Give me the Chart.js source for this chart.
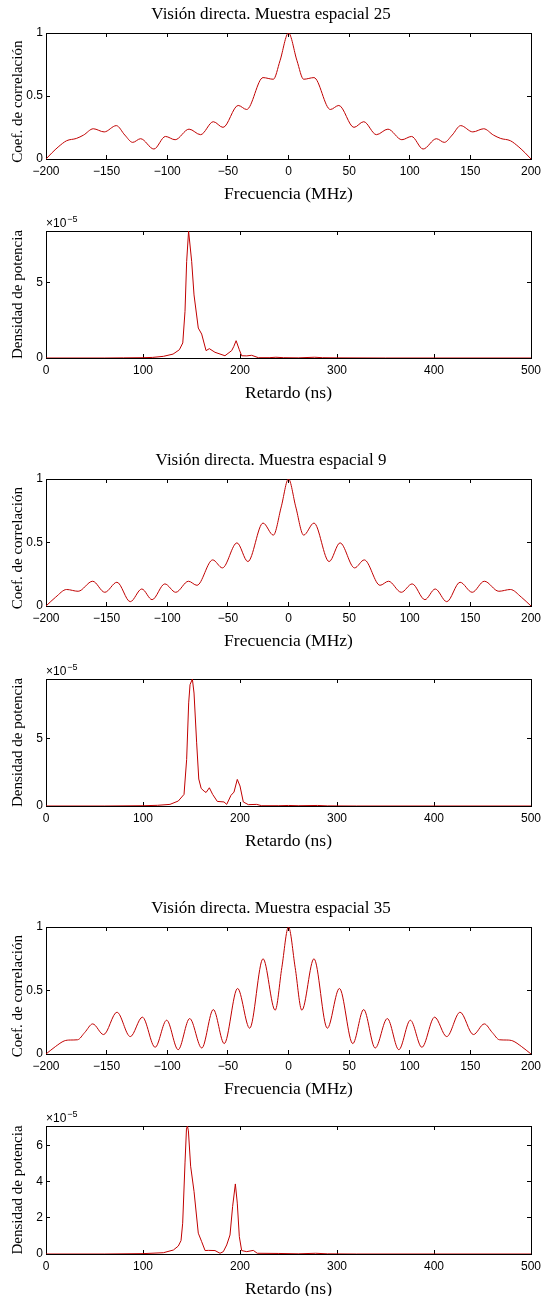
<!DOCTYPE html>
<html>
<head>
<meta charset="utf-8">
<script src="https://cdn.jsdelivr.net/npm/chart.js@4.4.0/dist/chart.umd.min.js"></script>
<style>
	body { margin: 0; background: #fff; width: 542px; height: 1296px; position: relative; overflow: hidden; }
	canvas { position: absolute; left: 0; }
</style>
</head>
<body>
<canvas id="corr25" width="542" height="210" style="top:0px"></canvas>
<canvas id="pdp25" width="542" height="200" style="top:210px"></canvas>
<canvas id="corr9" width="542" height="210" style="top:445px"></canvas>
<canvas id="pdp9" width="542" height="200" style="top:660px"></canvas>
<canvas id="corr35" width="542" height="210" style="top:893px"></canvas>
<canvas id="pdp35" width="542" height="191" style="top:1105px"></canvas>
<script>
// frecuencia (MHz) / coeficiente de correlación
const freq25 = [-200, -195, -190, -183, -175, -169, -161, -152, -142, -135, -128.5, -122, -111, -101.5, -93.5, -82, -72.5, -62, -54, -41.5, -34.5, -21, -12.5, -7, 0, 7, 12.5, 21, 34.5, 41.5, 54, 62, 72.5, 82, 93.5, 101.5, 111, 122, 128.5, 135, 142, 152, 161, 169, 175, 183, 190, 195, 200];
const corr25 = [0, 0.05, 0.095, 0.145, 0.163, 0.19, 0.24, 0.215, 0.265, 0.19, 0.132, 0.161, 0.079, 0.179, 0.153, 0.237, 0.193, 0.296, 0.251, 0.425, 0.393, 0.646, 0.633, 0.78, 1, 0.78, 0.633, 0.646, 0.393, 0.425, 0.251, 0.296, 0.193, 0.237, 0.153, 0.179, 0.079, 0.161, 0.132, 0.19, 0.265, 0.215, 0.24, 0.19, 0.163, 0.145, 0.095, 0.05, 0];

const freq9 = [-200, -192, -183, -173.5, -161.5, -151.5, -141.5, -130.5, -121, -112.5, -102, -93, -82.5, -75.5, -62.5, -54.5, -42.5, -33.5, -21, -12.5, -6, 0, 6, 12.5, 21, 33.5, 42.5, 54.5, 62.5, 75.5, 82.5, 93, 102, 112.5, 121, 130.5, 141.5, 151.5, 161.5, 173.5, 183, 192, 200];
const corr9 = [0, 0.07, 0.13, 0.116, 0.195, 0.108, 0.187, 0.034, 0.134, 0.05, 0.174, 0.108, 0.195, 0.163, 0.363, 0.3, 0.497, 0.35, 0.653, 0.558, 0.78, 1, 0.78, 0.558, 0.653, 0.35, 0.497, 0.3, 0.363, 0.163, 0.195, 0.108, 0.174, 0.05, 0.134, 0.034, 0.187, 0.108, 0.195, 0.116, 0.13, 0.07, 0];

const freq35 = [-200, -192, -185, -180, -174, -168, -161.5, -152.5, -141.5, -130.5, -120.5, -110, -100.5, -91, -81.5, -71.5, -62, -53, -42, -32, -21, -11, -5.5, 0, 5.5, 11, 21, 32, 42, 53, 62, 71.5, 81.5, 91, 100.5, 110, 120.5, 130.5, 141.5, 152.5, 161.5, 168, 174, 180, 185, 192, 200];
const corr35 = [0, 0.06, 0.103, 0.11, 0.112, 0.17, 0.237, 0.153, 0.329, 0.137, 0.29, 0.053, 0.266, 0.034, 0.279, 0.047, 0.35, 0.082, 0.516, 0.203, 0.75, 0.345, 0.68, 1, 0.68, 0.345, 0.75, 0.203, 0.516, 0.082, 0.35, 0.047, 0.279, 0.034, 0.266, 0.053, 0.29, 0.137, 0.329, 0.153, 0.237, 0.17, 0.112, 0.11, 0.103, 0.06, 0];

// retardo (ns) / densidad de potencia (x1e-5)
const delay25 = [0, 60, 80, 100, 110, 121, 131, 137.5, 141, 143.3, 145, 147, 150.2, 152.6, 157, 160.5, 165, 168.4, 174.2, 184.5, 191.4, 193.5, 196, 199.3, 201.7, 207, 212, 219, 230, 237, 245, 260, 277, 285, 300, 350, 400, 500];
const power25 = [0, 0, 0.01, 0.02, 0.04, 0.11, 0.26, 0.55, 1.0, 3.1, 6.4, 8.44, 6.4, 4.19, 1.99, 1.59, 0.49, 0.62, 0.38, 0.15, 0.49, 0.75, 1.15, 0.55, 0.15, 0.14, 0.18, 0.02, 0.02, 0.05, 0.02, 0.01, 0.05, 0.02, 0.01, 0, 0, 0];

const delay9 = [0, 60, 100, 115, 127.8, 136.4, 142.3, 145, 147.1, 148.5, 150.9, 152.6, 155.3, 157.5, 160, 163, 165, 168.4, 171.8, 176.6, 183.5, 186.3, 190.7, 193.8, 197.2, 200, 203.4, 208.6, 217.2, 222.4, 240, 250, 260, 280, 290, 320, 500];
const power9 = [0, 0, 0.02, 0.05, 0.12, 0.37, 0.86, 3.45, 7.64, 8.99, 9.41, 8.37, 4.68, 2.0, 1.3, 1.1, 1.0, 1.35, 0.86, 0.34, 0.3, 0.12, 0.79, 1.03, 1.97, 1.48, 0.3, 0.1, 0.12, 0.02, 0.02, 0.04, 0.02, 0.04, 0.01, 0, 0];

const delay35 = [0, 60, 100, 121, 131.3, 136.4, 139.2, 140.9, 143.3, 144.8, 145.8, 146.8, 149.1, 152.6, 157, 160.5, 164, 167.3, 174.2, 179.4, 182.8, 186.3, 189.7, 192.4, 195.2, 197.2, 199.3, 201.7, 206.9, 213.7, 217.8, 240, 260, 278, 290, 320, 500];
const power35 = [0, 0, 0.02, 0.07, 0.22, 0.44, 0.74, 1.7, 5.03, 6.9, 7.07, 6.8, 4.85, 3.46, 1.15, 0.68, 0.19, 0.2, 0.19, 0.04, 0.13, 0.5, 1.05, 2.63, 3.87, 2.81, 0.96, 0.19, 0.13, 0.2, 0.04, 0.03, 0.01, 0.04, 0.01, 0, 0];

// tick labels
const freqTicks = [-200, -150, -100, -50, 0, 50, 100, 150, 200];
const corrTicks = [0, 0.5, 1];
const delayTicks = [0, 100, 200, 300, 400, 500];
const powerTicks = [0, 5];
const powerTicks35 = [0, 2, 4, 6];

// x10^-5 label above the axes
const exponentLabel = {
	id: "exponentLabel",
	afterDraw(chart, args, opts) {
		if (!opts.text) return;
		const ctx = chart.ctx;
		const area = chart.chartArea;
		ctx.save();
		ctx.fillStyle = "#000";
		ctx.textBaseline = "alphabetic";
		ctx.font = "12px 'Liberation Sans'";
		ctx.fillText("×10", area.left, area.top - 4);
		const w = ctx.measureText("×10").width;
		ctx.font = "9px 'Liberation Sans'";
		ctx.fillText(opts.text, area.left + w + 1, area.top - 9);
		ctx.restore();
	},
};

function fmt(v) {
	return String(v).replace("-", "\u2212");
}

// one subplot
function drawPanel(canvasId, xs, ys, p) {
	const canvas = document.getElementById(canvasId);
	const H = canvas.height;
	const serif = "Liberation Serif";
	const tickFont = { family: "Liberation Sans", size: 12 };
	const setTicks = (list) => (scale) => {
		scale.ticks = list.map((v) => ({ value: v }));
	};
	const grid = { drawOnChartArea: false, drawTicks: true, tickLength: -4, color: "#000", lineWidth: 1 };
	const border = { display: true, color: "#000", width: 1 };
	const xMin = p.xTicks[0];
	const xMax = p.xTicks[p.xTicks.length - 1];
	const fixX = (h) => (s) => {
		s.height = h;
		s.paddingLeft = 0;
		s.paddingRight = 0;
	};
	const fixY = (w) => (s) => {
		s.width = w;
		s.paddingTop = 0;
		s.paddingBottom = 0;
	};

	new Chart(canvas, {
		type: "line",
		data: {
			datasets: [
				{
					data: xs.map((x, i) => ({ x: x, y: ys[i] })),
					borderColor: "#c00000",
					borderWidth: 1,
					pointRadius: 0,
					tension: p.smooth ? 0.4 : 0,
					cubicInterpolationMode: p.smooth ? "monotone" : "default",
					xAxisID: "x",
					yAxisID: "y",
				},
			],
		},
		options: {
			responsive: false,
			animation: false,
			events: [],
			layout: { padding: 0, autoPadding: false },
			plugins: {
				legend: { display: false },
				tooltip: { enabled: false },
				title: {
					display: !!p.title,
					text: p.title || "",
					color: "#000",
					font: { family: serif, size: 17, weight: "normal" },
					padding: { top: p.boxTop - 18 - 10.2, bottom: 18 - 10.2 },
				},
				exponentLabel: { text: p.exponent },
			},
			scales: {
				x: {
					type: "linear",
					position: "bottom",
					min: xMin,
					max: xMax,
					afterBuildTicks: setTicks(p.xTicks),
					afterFit: fixX(H - p.boxBottom),
					grid: grid,
					border: border,
					ticks: { font: tickFont, color: "#000", padding: 9, maxRotation: 0, autoSkip: false, includeBounds: false, callback: fmt },
					title: { display: true, text: p.xLabel, color: "#000", font: { family: serif, size: 17.5 }, padding: { top: 0, bottom: H - p.boxBottom - 35 - 10.5 } },
				},
				xTop: {
					type: "linear",
					position: "top",
					min: xMin,
					max: xMax,
					afterBuildTicks: setTicks(p.xTicks),
					afterFit: fixX(p.title ? 0 : p.boxTop),
					grid: grid,
					border: border,
					ticks: { display: false, includeBounds: false },
				},
				y: {
					type: "linear",
					position: "left",
					min: 0,
					max: p.yMax,
					afterBuildTicks: setTicks(p.yTicks),
					afterFit: fixY(46),
					grid: grid,
					border: border,
					ticks: { font: tickFont, color: "#000", padding: 7, includeBounds: false, callback: fmt },
					title: { display: true, text: p.yLabel, color: "#000", font: { family: serif, size: 15 }, padding: { top: 9, bottom: 0 } },
				},
				yRight: {
					type: "linear",
					position: "right",
					min: 0,
					max: p.yMax,
					afterBuildTicks: setTicks(p.yTicks),
					afterFit: fixY(11),
					grid: grid,
					border: border,
					ticks: { display: false, includeBounds: false },
				},
			},
		},
		plugins: [exponentLabel],
	});
}

// trailing spaces push the rotated label a little lower, as in the original
const corrLabel = "Coef. de correlación\u00a0\u00a0\u00a0";
const powerLabel = "Densidad de potencia";

drawPanel("corr25", freq25, corr25, { title: "Visión directa. Muestra espacial 25", xLabel: "Frecuencia (MHz)", yLabel: corrLabel, xTicks: freqTicks, yTicks: corrTicks, yMax: 1, boxTop: 33, boxBottom: 159, smooth: true });
drawPanel("pdp25", delay25, power25, { xLabel: "Retardo (ns)", yLabel: powerLabel, xTicks: delayTicks, yTicks: powerTicks, yMax: 8.44, boxTop: 21, boxBottom: 148, exponent: "\u22125" });
drawPanel("corr9", freq9, corr9, { title: "Visión directa. Muestra espacial 9", xLabel: "Frecuencia (MHz)", yLabel: corrLabel, xTicks: freqTicks, yTicks: corrTicks, yMax: 1, boxTop: 34, boxBottom: 161, smooth: true });
drawPanel("pdp9", delay9, power9, { xLabel: "Retardo (ns)", yLabel: powerLabel, xTicks: delayTicks, yTicks: powerTicks, yMax: 9.41, boxTop: 19, boxBottom: 146, exponent: "\u22125" });
drawPanel("corr35", freq35, corr35, { title: "Visión directa. Muestra espacial 35", xLabel: "Frecuencia (MHz)", yLabel: corrLabel, xTicks: freqTicks, yTicks: corrTicks, yMax: 1, boxTop: 34, boxBottom: 161, smooth: true });
drawPanel("pdp35", delay35, power35, { xLabel: "Retardo (ns)", yLabel: powerLabel, xTicks: delayTicks, yTicks: powerTicks35, yMax: 7.07, boxTop: 21, boxBottom: 149, exponent: "\u22125" });
</script>
</body>
</html>
